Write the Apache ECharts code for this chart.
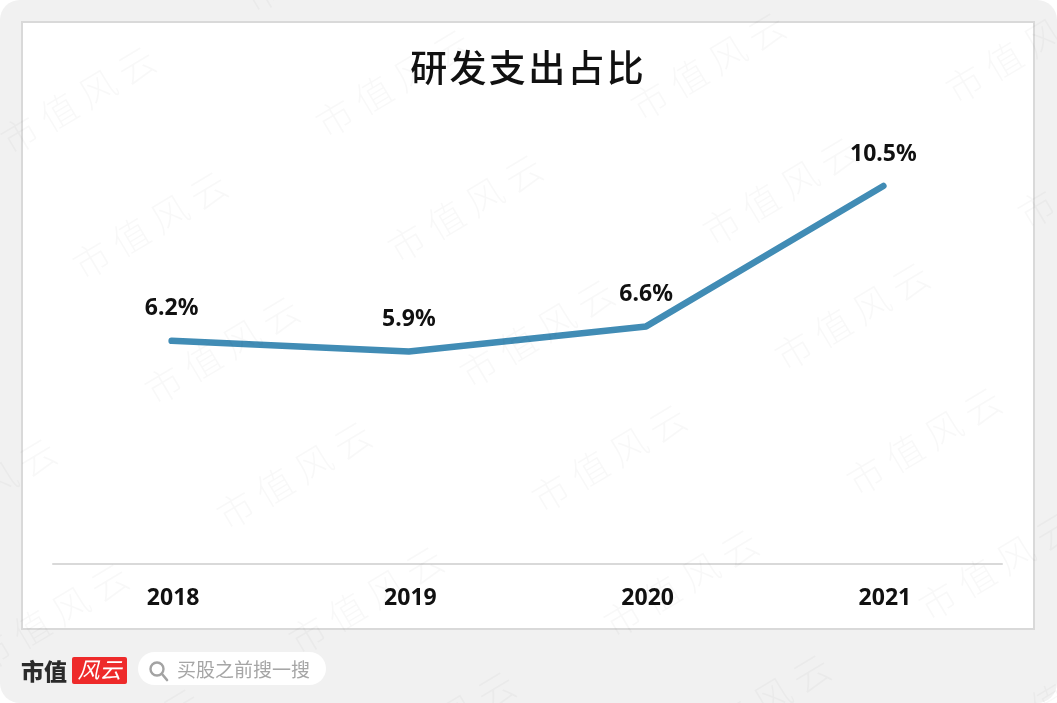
<!DOCTYPE html>
<html><head><meta charset="utf-8">
<style>html,body{margin:0;padding:0;background:#fff}#c{width:1057px;height:703px}</style>
<script src="https://cdn.jsdelivr.net/npm/echarts@6/dist/echarts.min.js"></script>
</head><body><div id="c"></div>
<script>
const categories = ['2018','2019','2020','2021'];
const values = [6.2,5.9,6.6,10.5];
const titleText = '研\u200a发\u200a支\u200a出\u200a占\u200a比';
const watermarkText = '市 值 风 云';
const searchText = '买股之前搜一搜';
const CJK = '"Noto Sans CJK SC"';
const chart = echarts.init(document.getElementById('c'), null, {renderer:'canvas'});

const marks = [];
for (let i = -3; i < 6; i++) for (let j = -1; j < 6; j++) {
  const x = 78 + i*72 + j*315, y = 100 + i*125 - j*17;
  if (x < -100 || x > 1160 || y < -60 || y > 770) continue;
  marks.push({type:'text', x, y, rotation:0.54, z:50, silent:true,
    style:{text:watermarkText, font:'300 37px '+CJK, fill:'rgba(0,0,0,0.028)', align:'center', verticalAlign:'middle'}});
}
const back = [
  {type:'rect', z:-10, silent:true, shape:{x:0,y:0,width:1057,height:703,r:20}, style:{fill:'#f1f1f1'}},
  {type:'rect', z:-9, silent:true, shape:{x:22,y:22,width:1012,height:607}, style:{fill:'#fff',stroke:'#d9d9d9',lineWidth:2}},
  {type:'text', z:5, x:21, y:671, style:{text:'市值', font:'900 23px "Noto Sans CJK SC"', fill:'#2b2b2b', verticalAlign:'middle'}},
  {type:'rect', z:5, shape:{x:72,y:657,width:55,height:27,r:2}, style:{fill:'#ee2a2a'}},
  {type:'text', z:6, x:99.5, y:670, style:{text:'风云', font:'italic 22px "Noto Sans CJK SC"', fill:'#fff', align:'center', verticalAlign:'middle'}},
  {type:'rect', z:5, shape:{x:138,y:652,width:188,height:33,r:16.5}, style:{fill:'#fff'}},
  {type:'circle', z:6, shape:{cx:157,cy:669,r:6.5}, style:{fill:'none',stroke:'#a3a3a3',lineWidth:2.4}},
  {type:'line', z:6, shape:{x1:162,y1:674,x2:167,y2:680}, style:{stroke:'#a3a3a3',lineWidth:2.6,lineCap:'round'}},
  {type:'text', z:6, x:177, y:670, style:{text:searchText, font:'19px "Noto Sans CJK SC"', fill:'#a6a6a6', verticalAlign:'middle'}}
];
chart.setOption({
  animation:false,
  backgroundColor:'#fff',
  title:{text:titleText, left:522, top:44, textAlign:'center',
    textStyle:{fontFamily:'Noto Sans CJK SC', fontSize:37, fontWeight:500, color:'#111'}},
  grid:{left:53, top:132, width:949, height:432},
  xAxis:{type:'category', data:categories, boundaryGap:true,
    axisLine:{lineStyle:{color:'#d9d9d9',width:2}}, axisTick:{show:false},
    axisLabel:{margin:23, padding:[0,0,0,3], fontFamily:'Noto Sans', fontSize:23, fontWeight:700, color:'#111'}},
  yAxis:{type:'value', min:0, max:12, show:false, splitLine:{show:false}},
  series:[{type:'line', data:values, symbol:'circle', symbolSize:1, showSymbol:true, showAllSymbol:true, smooth:false,
    itemStyle:{color:'#418cb5'},
    lineStyle:{color:'#418cb5',width:6.5,cap:'round',join:'round'},
    label:{show:true, position:'top', distance:20, formatter:p=>p.value.toFixed(1)+'%',
      fontFamily:'Noto Sans', fontSize:23, fontWeight:700, color:'#111'}
  }],
  graphic:{elements:back.concat(marks)}
});
</script></body></html>
